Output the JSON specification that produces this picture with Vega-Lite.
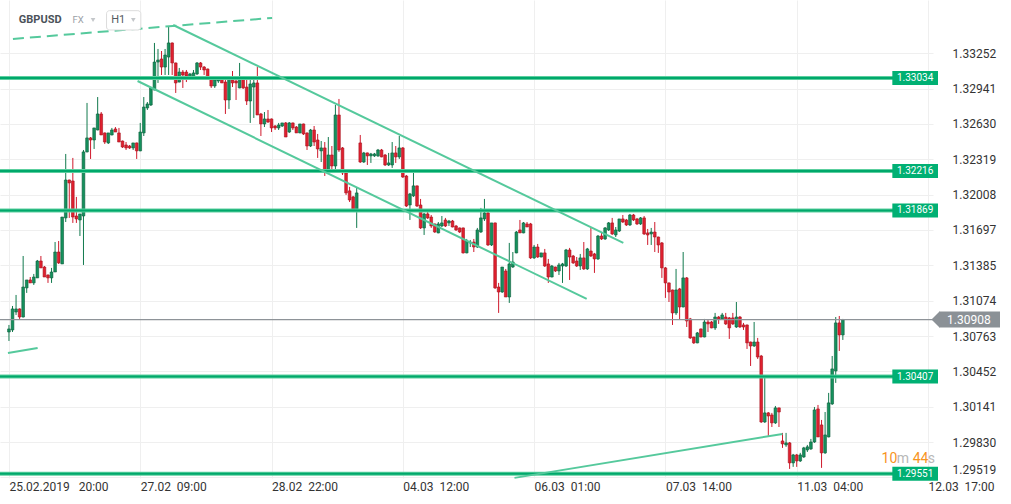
{
"$schema":"https://vega.github.io/schema/vega-lite/v6.json",
"width":933,"height":478,
"autosize":{"type":"none"},
"padding":{"left":0,"top":0,"right":78,"bottom":26},
"background":"white",
"config":{"view":{"stroke":null},"font":"Roboto","text":{"font":"Roboto"},"axis":{"labelOverlap":false,"labelBound":false}},
"datasets":{
"candles":[
{"i":0,"o":1.30799,"h":1.30861,"l":1.30720,"c":1.30826},
{"i":1,"o":1.30817,"h":1.31028,"l":1.30799,"c":1.31002},
{"i":2,"o":1.30975,"h":1.31125,"l":1.30949,"c":1.31002},
{"i":3,"o":1.31002,"h":1.31007,"l":1.30914,"c":1.30931},
{"i":4,"o":1.30931,"h":1.31468,"l":1.30927,"c":1.31195},
{"i":5,"o":1.31187,"h":1.31257,"l":1.31143,"c":1.31257},
{"i":6,"o":1.31257,"h":1.31283,"l":1.31231,"c":1.31231},
{"i":7,"o":1.31231,"h":1.31310,"l":1.31213,"c":1.31283},
{"i":8,"o":1.31275,"h":1.31433,"l":1.31275,"c":1.31424},
{"i":9,"o":1.31424,"h":1.31468,"l":1.31363,"c":1.31363},
{"i":10,"o":1.31371,"h":1.31380,"l":1.31283,"c":1.31283},
{"i":11,"o":1.31301,"h":1.31305,"l":1.31231,"c":1.31275},
{"i":12,"o":1.31275,"h":1.31363,"l":1.31231,"c":1.31327},
{"i":13,"o":1.31327,"h":1.31591,"l":1.31327,"c":1.31503},
{"i":14,"o":1.31503,"h":1.31600,"l":1.31398,"c":1.31407},
{"i":15,"o":1.31398,"h":1.31811,"l":1.31398,"c":1.31811},
{"i":16,"o":1.31803,"h":1.32366,"l":1.31767,"c":1.32137},
{"i":17,"o":1.32137,"h":1.32140,"l":1.31803,"c":1.32111},
{"i":18,"o":1.32128,"h":1.32331,"l":1.31759,"c":1.31811},
{"i":19,"o":1.31820,"h":1.31988,"l":1.31759,"c":1.31794},
{"i":20,"o":1.31785,"h":1.31838,"l":1.31644,"c":1.31838},
{"i":21,"o":1.31820,"h":1.32401,"l":1.31389,"c":1.32384},
{"i":22,"o":1.32384,"h":1.32815,"l":1.32380,"c":1.32507},
{"i":23,"o":1.32507,"h":1.32515,"l":1.32322,"c":1.32489},
{"i":24,"o":1.32489,"h":1.32595,"l":1.32410,"c":1.32595},
{"i":25,"o":1.32577,"h":1.32867,"l":1.32574,"c":1.32718},
{"i":26,"o":1.32718,"h":1.32735,"l":1.32533,"c":1.32533},
{"i":27,"o":1.32551,"h":1.32555,"l":1.32454,"c":1.32471},
{"i":28,"o":1.32463,"h":1.32551,"l":1.32454,"c":1.32551},
{"i":29,"o":1.32533,"h":1.32595,"l":1.32530,"c":1.32577},
{"i":30,"o":1.32586,"h":1.32603,"l":1.32559,"c":1.32559},
{"i":31,"o":1.32551,"h":1.32595,"l":1.32471,"c":1.32471},
{"i":32,"o":1.32480,"h":1.32484,"l":1.32419,"c":1.32427},
{"i":33,"o":1.32445,"h":1.32471,"l":1.32401,"c":1.32419},
{"i":34,"o":1.32436,"h":1.32445,"l":1.32410,"c":1.32419},
{"i":35,"o":1.32419,"h":1.32463,"l":1.32401,"c":1.32463},
{"i":36,"o":1.32463,"h":1.32466,"l":1.32322,"c":1.32393},
{"i":37,"o":1.32393,"h":1.32639,"l":1.32390,"c":1.32559},
{"i":38,"o":1.32551,"h":1.32867,"l":1.32524,"c":1.32779},
{"i":39,"o":1.32771,"h":1.32823,"l":1.32753,"c":1.32806},
{"i":40,"o":1.32797,"h":1.32947,"l":1.32788,"c":1.32947},
{"i":41,"o":1.32929,"h":1.33343,"l":1.32926,"c":1.33175},
{"i":42,"o":1.33175,"h":1.33290,"l":1.32991,"c":1.33193},
{"i":43,"o":1.33202,"h":1.33272,"l":1.33061,"c":1.33131},
{"i":44,"o":1.33131,"h":1.33290,"l":1.33061,"c":1.33237},
{"i":45,"o":1.33219,"h":1.33483,"l":1.33061,"c":1.33343},
{"i":46,"o":1.33343,"h":1.33347,"l":1.33061,"c":1.33167},
{"i":47,"o":1.33167,"h":1.33170,"l":1.32903,"c":1.32991},
{"i":48,"o":1.32999,"h":1.33123,"l":1.32996,"c":1.33087},
{"i":49,"o":1.33087,"h":1.33105,"l":1.32947,"c":1.33061},
{"i":50,"o":1.33087,"h":1.33105,"l":1.32999,"c":1.33052},
{"i":51,"o":1.33043,"h":1.33079,"l":1.33040,"c":1.33070},
{"i":52,"o":1.33043,"h":1.33105,"l":1.33040,"c":1.33079},
{"i":53,"o":1.33070,"h":1.33175,"l":1.33061,"c":1.33167},
{"i":54,"o":1.33167,"h":1.33175,"l":1.33105,"c":1.33131},
{"i":55,"o":1.33131,"h":1.33140,"l":1.33061,"c":1.33105},
{"i":56,"o":1.33114,"h":1.33117,"l":1.33035,"c":1.33043},
{"i":57,"o":1.33043,"h":1.33046,"l":1.32947,"c":1.32964},
{"i":58,"o":1.32964,"h":1.33035,"l":1.32947,"c":1.33017},
{"i":59,"o":1.33008,"h":1.33035,"l":1.32991,"c":1.33026},
{"i":60,"o":1.33043,"h":1.33052,"l":1.32991,"c":1.32991},
{"i":61,"o":1.32999,"h":1.33052,"l":1.32718,"c":1.32841},
{"i":62,"o":1.32841,"h":1.33043,"l":1.32762,"c":1.33043},
{"i":63,"o":1.33017,"h":1.33096,"l":1.32955,"c":1.32991},
{"i":64,"o":1.33008,"h":1.33026,"l":1.32841,"c":1.32991},
{"i":65,"o":1.32947,"h":1.33167,"l":1.32944,"c":1.33043},
{"i":66,"o":1.33035,"h":1.33043,"l":1.32938,"c":1.32947},
{"i":67,"o":1.32955,"h":1.33052,"l":1.32797,"c":1.32832},
{"i":68,"o":1.32832,"h":1.33052,"l":1.32639,"c":1.32982},
{"i":69,"o":1.32955,"h":1.33043,"l":1.32683,"c":1.32991},
{"i":70,"o":1.32991,"h":1.33131,"l":1.32709,"c":1.32709},
{"i":71,"o":1.32718,"h":1.32727,"l":1.32524,"c":1.32630},
{"i":72,"o":1.32630,"h":1.32735,"l":1.32603,"c":1.32674},
{"i":73,"o":1.32674,"h":1.32753,"l":1.32639,"c":1.32647},
{"i":74,"o":1.32674,"h":1.32678,"l":1.32559,"c":1.32595},
{"i":75,"o":1.32612,"h":1.32621,"l":1.32577,"c":1.32595},
{"i":76,"o":1.32595,"h":1.32639,"l":1.32577,"c":1.32621},
{"i":77,"o":1.32612,"h":1.32639,"l":1.32603,"c":1.32639},
{"i":78,"o":1.32639,"h":1.32647,"l":1.32515,"c":1.32515},
{"i":79,"o":1.32559,"h":1.32647,"l":1.32551,"c":1.32639},
{"i":80,"o":1.32639,"h":1.32642,"l":1.32577,"c":1.32595},
{"i":81,"o":1.32603,"h":1.32612,"l":1.32551,"c":1.32551},
{"i":82,"o":1.32551,"h":1.32630,"l":1.32548,"c":1.32630},
{"i":83,"o":1.32630,"h":1.32633,"l":1.32533,"c":1.32542},
{"i":84,"o":1.32551,"h":1.32555,"l":1.32401,"c":1.32436},
{"i":85,"o":1.32436,"h":1.32586,"l":1.32427,"c":1.32577},
{"i":86,"o":1.32577,"h":1.32612,"l":1.32436,"c":1.32471},
{"i":87,"o":1.32489,"h":1.32542,"l":1.32331,"c":1.32410},
{"i":88,"o":1.32393,"h":1.32480,"l":1.32295,"c":1.32419},
{"i":89,"o":1.32419,"h":1.32471,"l":1.32172,"c":1.32216},
{"i":90,"o":1.32216,"h":1.32515,"l":1.32199,"c":1.32357},
{"i":91,"o":1.32357,"h":1.32436,"l":1.32207,"c":1.32260},
{"i":92,"o":1.32260,"h":1.32797,"l":1.32207,"c":1.32709},
{"i":93,"o":1.32709,"h":1.32850,"l":1.32384,"c":1.32401},
{"i":94,"o":1.32419,"h":1.32427,"l":1.32181,"c":1.32199},
{"i":95,"o":1.32199,"h":1.32225,"l":1.32005,"c":1.32023},
{"i":96,"o":1.32041,"h":1.32076,"l":1.31943,"c":1.31961},
{"i":97,"o":1.31988,"h":1.31997,"l":1.31864,"c":1.31864},
{"i":98,"o":1.31864,"h":1.32067,"l":1.31715,"c":1.32023},
{"i":99,"o":1.32463,"h":1.32533,"l":1.32287,"c":1.32295},
{"i":100,"o":1.32295,"h":1.32384,"l":1.32287,"c":1.32375},
{"i":101,"o":1.32375,"h":1.32378,"l":1.32269,"c":1.32349},
{"i":102,"o":1.32349,"h":1.32375,"l":1.32287,"c":1.32366},
{"i":103,"o":1.32349,"h":1.32375,"l":1.32340,"c":1.32366},
{"i":104,"o":1.32349,"h":1.32410,"l":1.32340,"c":1.32401},
{"i":105,"o":1.32401,"h":1.32410,"l":1.32337,"c":1.32340},
{"i":106,"o":1.32357,"h":1.32366,"l":1.32260,"c":1.32269},
{"i":107,"o":1.32269,"h":1.32375,"l":1.32260,"c":1.32287},
{"i":108,"o":1.32269,"h":1.32471,"l":1.32243,"c":1.32375},
{"i":109,"o":1.32375,"h":1.32436,"l":1.32287,"c":1.32340},
{"i":110,"o":1.32340,"h":1.32524,"l":1.32322,"c":1.32419},
{"i":111,"o":1.32419,"h":1.32427,"l":1.32155,"c":1.32163},
{"i":112,"o":1.32172,"h":1.32181,"l":1.31899,"c":1.31908},
{"i":113,"o":1.31917,"h":1.32023,"l":1.31785,"c":1.32014},
{"i":114,"o":1.31997,"h":1.32216,"l":1.31988,"c":1.32085},
{"i":115,"o":1.32085,"h":1.32088,"l":1.31899,"c":1.31908},
{"i":116,"o":1.31917,"h":1.31970,"l":1.31706,"c":1.31715},
{"i":117,"o":1.31715,"h":1.31847,"l":1.31653,"c":1.31838},
{"i":118,"o":1.31838,"h":1.31855,"l":1.31794,"c":1.31803},
{"i":119,"o":1.31811,"h":1.31829,"l":1.31715,"c":1.31732},
{"i":120,"o":1.31750,"h":1.31753,"l":1.31671,"c":1.31679},
{"i":121,"o":1.31671,"h":1.31767,"l":1.31668,"c":1.31750},
{"i":122,"o":1.31732,"h":1.31820,"l":1.31723,"c":1.31759},
{"i":123,"o":1.31785,"h":1.31803,"l":1.31723,"c":1.31732},
{"i":124,"o":1.31759,"h":1.31785,"l":1.31732,"c":1.31776},
{"i":125,"o":1.31776,"h":1.31785,"l":1.31720,"c":1.31723},
{"i":126,"o":1.31732,"h":1.31741,"l":1.31688,"c":1.31697},
{"i":127,"o":1.31715,"h":1.31718,"l":1.31671,"c":1.31679},
{"i":128,"o":1.31715,"h":1.31718,"l":1.31490,"c":1.31495},
{"i":129,"o":1.31495,"h":1.31618,"l":1.31492,"c":1.31600},
{"i":130,"o":1.31583,"h":1.31609,"l":1.31547,"c":1.31591},
{"i":131,"o":1.31591,"h":1.31618,"l":1.31503,"c":1.31547},
{"i":132,"o":1.31547,"h":1.31715,"l":1.31539,"c":1.31697},
{"i":133,"o":1.31679,"h":1.31891,"l":1.31671,"c":1.31803},
{"i":134,"o":1.31794,"h":1.31970,"l":1.31776,"c":1.31847},
{"i":135,"o":1.31847,"h":1.31873,"l":1.31556,"c":1.31565},
{"i":136,"o":1.31565,"h":1.31759,"l":1.31556,"c":1.31759},
{"i":137,"o":1.31759,"h":1.31762,"l":1.31178,"c":1.31187},
{"i":138,"o":1.31195,"h":1.31231,"l":1.30967,"c":1.31151},
{"i":139,"o":1.31151,"h":1.31371,"l":1.31143,"c":1.31371},
{"i":140,"o":1.31336,"h":1.31354,"l":1.31107,"c":1.31107},
{"i":141,"o":1.31107,"h":1.31583,"l":1.31055,"c":1.31398},
{"i":142,"o":1.31371,"h":1.31503,"l":1.31363,"c":1.31415},
{"i":143,"o":1.31495,"h":1.31688,"l":1.31492,"c":1.31679},
{"i":144,"o":1.31697,"h":1.31785,"l":1.31671,"c":1.31671},
{"i":145,"o":1.31671,"h":1.31767,"l":1.31668,"c":1.31759},
{"i":146,"o":1.31750,"h":1.31767,"l":1.31723,"c":1.31723},
{"i":147,"o":1.31750,"h":1.31759,"l":1.31442,"c":1.31451},
{"i":148,"o":1.31451,"h":1.31565,"l":1.31442,"c":1.31547},
{"i":149,"o":1.31547,"h":1.31574,"l":1.31451,"c":1.31459},
{"i":150,"o":1.31459,"h":1.31495,"l":1.31456,"c":1.31495},
{"i":151,"o":1.31495,"h":1.31530,"l":1.31371,"c":1.31380},
{"i":152,"o":1.31398,"h":1.31442,"l":1.31231,"c":1.31283},
{"i":153,"o":1.31283,"h":1.31389,"l":1.31280,"c":1.31380},
{"i":154,"o":1.31371,"h":1.31374,"l":1.31327,"c":1.31336},
{"i":155,"o":1.31336,"h":1.31407,"l":1.31301,"c":1.31389},
{"i":156,"o":1.31380,"h":1.31407,"l":1.31231,"c":1.31398},
{"i":157,"o":1.31380,"h":1.31530,"l":1.31371,"c":1.31521},
{"i":158,"o":1.31521,"h":1.31539,"l":1.31257,"c":1.31459},
{"i":159,"o":1.31468,"h":1.31477,"l":1.31398,"c":1.31407},
{"i":160,"o":1.31424,"h":1.31459,"l":1.31371,"c":1.31380},
{"i":161,"o":1.31380,"h":1.31486,"l":1.31345,"c":1.31451},
{"i":162,"o":1.31451,"h":1.31591,"l":1.31345,"c":1.31354},
{"i":163,"o":1.31354,"h":1.31539,"l":1.31345,"c":1.31530},
{"i":164,"o":1.31512,"h":1.31723,"l":1.31459,"c":1.31468},
{"i":165,"o":1.31486,"h":1.31495,"l":1.31319,"c":1.31442},
{"i":166,"o":1.31442,"h":1.31653,"l":1.31433,"c":1.31644},
{"i":167,"o":1.31644,"h":1.31671,"l":1.31609,"c":1.31618},
{"i":168,"o":1.31618,"h":1.31723,"l":1.31609,"c":1.31715},
{"i":169,"o":1.31697,"h":1.31767,"l":1.31688,"c":1.31759},
{"i":170,"o":1.31759,"h":1.31803,"l":1.31653,"c":1.31662},
{"i":171,"o":1.31653,"h":1.31723,"l":1.31635,"c":1.31697},
{"i":172,"o":1.31688,"h":1.31794,"l":1.31679,"c":1.31794},
{"i":173,"o":1.31794,"h":1.31829,"l":1.31759,"c":1.31767},
{"i":174,"o":1.31785,"h":1.31794,"l":1.31732,"c":1.31741},
{"i":175,"o":1.31741,"h":1.31838,"l":1.31732,"c":1.31829},
{"i":176,"o":1.31829,"h":1.31838,"l":1.31776,"c":1.31785},
{"i":177,"o":1.31794,"h":1.31803,"l":1.31741,"c":1.31750},
{"i":178,"o":1.31750,"h":1.31811,"l":1.31741,"c":1.31803},
{"i":179,"o":1.31803,"h":1.31820,"l":1.31653,"c":1.31662},
{"i":180,"o":1.31671,"h":1.31706,"l":1.31565,"c":1.31653},
{"i":181,"o":1.31662,"h":1.31715,"l":1.31565,"c":1.31679},
{"i":182,"o":1.31679,"h":1.31767,"l":1.31503,"c":1.31635},
{"i":183,"o":1.31635,"h":1.31638,"l":1.31495,"c":1.31565},
{"i":184,"o":1.31583,"h":1.31591,"l":1.31275,"c":1.31363},
{"i":185,"o":1.31363,"h":1.31371,"l":1.31099,"c":1.31231},
{"i":186,"o":1.31231,"h":1.31234,"l":1.31063,"c":1.31151},
{"i":187,"o":1.31169,"h":1.31172,"l":1.30861,"c":1.30967},
{"i":188,"o":1.30967,"h":1.31354,"l":1.30949,"c":1.31169},
{"i":189,"o":1.31178,"h":1.31187,"l":1.30905,"c":1.31019},
{"i":190,"o":1.31019,"h":1.31503,"l":1.31016,"c":1.31275},
{"i":191,"o":1.31275,"h":1.31283,"l":1.30843,"c":1.30896},
{"i":192,"o":1.30914,"h":1.30923,"l":1.30738,"c":1.30747},
{"i":193,"o":1.30755,"h":1.30758,"l":1.30694,"c":1.30703},
{"i":194,"o":1.30703,"h":1.30799,"l":1.30700,"c":1.30791},
{"i":195,"o":1.30826,"h":1.30829,"l":1.30752,"c":1.30755},
{"i":196,"o":1.30755,"h":1.30914,"l":1.30752,"c":1.30887},
{"i":197,"o":1.30887,"h":1.30905,"l":1.30799,"c":1.30870},
{"i":198,"o":1.30887,"h":1.30896,"l":1.30832,"c":1.30835},
{"i":199,"o":1.30835,"h":1.30967,"l":1.30817,"c":1.30931},
{"i":200,"o":1.30931,"h":1.30940,"l":1.30870,"c":1.30914},
{"i":201,"o":1.30914,"h":1.30967,"l":1.30905,"c":1.30949},
{"i":202,"o":1.30931,"h":1.30967,"l":1.30861,"c":1.30870},
{"i":203,"o":1.30923,"h":1.30931,"l":1.30738,"c":1.30835},
{"i":204,"o":1.30923,"h":1.30967,"l":1.30861,"c":1.30870},
{"i":205,"o":1.30843,"h":1.31063,"l":1.30835,"c":1.30931},
{"i":206,"o":1.30931,"h":1.30940,"l":1.30835,"c":1.30843},
{"i":207,"o":1.30861,"h":1.30879,"l":1.30817,"c":1.30843},
{"i":208,"o":1.30861,"h":1.30864,"l":1.30650,"c":1.30703},
{"i":209,"o":1.30711,"h":1.30714,"l":1.30500,"c":1.30676},
{"i":210,"o":1.30676,"h":1.30887,"l":1.30667,"c":1.30711},
{"i":211,"o":1.30711,"h":1.30747,"l":1.30562,"c":1.30579},
{"i":212,"o":1.30588,"h":1.30597,"l":1.29999,"c":1.30007},
{"i":213,"o":1.30007,"h":1.30395,"l":1.29999,"c":1.30087},
{"i":214,"o":1.30087,"h":1.30095,"l":1.29884,"c":1.30060},
{"i":215,"o":1.30069,"h":1.30087,"l":1.29963,"c":1.29999},
{"i":216,"o":1.29999,"h":1.30148,"l":1.29990,"c":1.30131},
{"i":217,"o":1.30131,"h":1.30134,"l":1.29963,"c":1.30095},
{"i":218,"o":1.29840,"h":1.29911,"l":1.29779,"c":1.29814},
{"i":219,"o":1.29805,"h":1.29911,"l":1.29788,"c":1.29823},
{"i":220,"o":1.29823,"h":1.29831,"l":1.29594,"c":1.29647},
{"i":221,"o":1.29647,"h":1.29726,"l":1.29612,"c":1.29717},
{"i":222,"o":1.29717,"h":1.29726,"l":1.29612,"c":1.29664},
{"i":223,"o":1.29664,"h":1.29735,"l":1.29655,"c":1.29717},
{"i":224,"o":1.29699,"h":1.29788,"l":1.29691,"c":1.29779},
{"i":225,"o":1.29761,"h":1.29805,"l":1.29743,"c":1.29788},
{"i":226,"o":1.29770,"h":1.29858,"l":1.29761,"c":1.29831},
{"i":227,"o":1.29831,"h":1.30139,"l":1.29823,"c":1.30113},
{"i":228,"o":1.30122,"h":1.30157,"l":1.29875,"c":1.29875},
{"i":229,"o":1.29981,"h":1.30025,"l":1.29603,"c":1.29735},
{"i":230,"o":1.29735,"h":1.30095,"l":1.29726,"c":1.29893},
{"i":231,"o":1.29875,"h":1.30263,"l":1.29872,"c":1.30175},
{"i":232,"o":1.30166,"h":1.30588,"l":1.30157,"c":1.30474},
{"i":233,"o":1.30456,"h":1.30931,"l":1.30351,"c":1.30879},
{"i":234,"o":1.30879,"h":1.30940,"l":1.30632,"c":1.30773},
{"i":235,"o":1.30773,"h":1.30914,"l":1.30729,"c":1.30905}
],
"levels":[{"price":1.33034},{"price":1.32216},{"price":1.31869},{"price":1.30407},{"price":1.29551}],
"current":[{"price":1.30908}],
"trend":[
{"id":"upper","i":46.28,"p":1.33501},{"id":"upper","i":173.13,"p":1.31583},
{"id":"lower","i":36.24,"p":1.33008},{"id":"lower","i":162.81,"p":1.31090},
{"id":"small","i":-0.28,"p":1.30615},{"id":"small","i":8.08,"p":1.30659},
{"id":"support","i":142.46,"p":1.29515},{"id":"support","i":218.01,"p":1.29902}
],
"dashed":[{"i":1.12,"p":1.33378},{"i":74.16,"p":1.33563}]
},
"layer":[
{"data":{"name":"candles"},
 "mark":{"type":"rule","strokeWidth":1},
 "encoding":{
  "x":{"field":"i","type":"quantitative","title":null,"scale":{"domain":[-1.115,259],"nice":false,"zero":false},
   "axis":{"values":[0,37,74,111,148,185,222,259],"tickCount":30,
    "labelExpr":"['25.02.2019\u00a0\u00a0\u00a020:00','27.02\u00a0\u00a009:00','28.02\u00a0\u00a022:00','04.03\u00a0\u00a012:00','06.03\u00a0\u00a001:00','07.03\u00a0\u00a014:00','11.03\u00a0\u00a004:00','12.03\u00a0\u00a017:00'][round(datum.value/37)]",
    "labelAlign":"left","labelFlush":false,"labelOverlap":false,"labelBound":false,"ticks":false,"tickSize":0,"domain":false,
    "grid":true,"gridColor":"#efefef","gridWidth":1,"labelPadding":3,"labelFontSize":12,"labelColor":"#333333","labelDx":1,"labelFont":"Roboto"}},
  "y":{"field":"l","type":"quantitative","title":null,"scale":{"domain":[1.29514,1.33721],"nice":false,"zero":false},
   "axis":{"orient":"right","values":[1.29519,1.2983,1.30141,1.30452,1.30763,1.31074,1.31385,1.31697,1.32008,1.32319,1.3263,1.32941,1.33252],"tickCount":30,
    "format":".5f","ticks":false,"tickSize":0,"domain":false,"grid":true,"gridColor":"#efefef","gridWidth":1,"labelFlush":2,"labelFlushOffset":-1,
    "labelPadding":19,"labelFontSize":12,"labelColor":"#333333","labelFont":"Roboto","labelOverlap":false,"labelBound":false}},
  "y2":{"field":"h"},
  "color":{"condition":{"test":"datum.c >= datum.o","value":"#127a4e"},"value":"#cf1a2c"}
 }},
{"data":{"name":"candles"},
 "mark":{"type":"bar","width":2.7,"strokeWidth":0.6},
 "encoding":{
  "x":{"field":"i","type":"quantitative","title":null},
  "y":{"field":"o","type":"quantitative","title":null},
  "y2":{"field":"c"},
  "fill":{"condition":{"test":"datum.c >= datum.o","value":"#15915d"},"value":"#e0202f"},
  "stroke":{"condition":{"test":"datum.c >= datum.o","value":"#0b5c3b"},"value":"#a5121f"}
 }},
{"data":{"name":"levels"},
 "mark":{"type":"rule","strokeWidth":4,"color":"#5ccf9f"},
 "encoding":{"y":{"field":"price","type":"quantitative","title":null}}},
{"data":{"name":"levels"},
 "mark":{"type":"rule","strokeWidth":2,"color":"#00a86b"},
 "encoding":{"y":{"field":"price","type":"quantitative","title":null}}},
{"data":{"name":"current"},
 "mark":{"type":"rule","strokeWidth":1.2,"color":"#8e9398"},
 "encoding":{"y":{"field":"price","type":"quantitative","title":null}}},
{"data":{"name":"trend"},
 "mark":{"type":"line","strokeWidth":2,"color":"#55c99c"},
 "encoding":{
  "x":{"field":"i","type":"quantitative","title":null},
  "y":{"field":"p","type":"quantitative","title":null},
  "detail":{"field":"id"}}},
{"data":{"name":"dashed"},
 "mark":{"type":"line","strokeWidth":2,"color":"#55c99c","strokeDash":[11,6]},
 "encoding":{
  "x":{"field":"i","type":"quantitative","title":null},
  "y":{"field":"p","type":"quantitative","title":null}}},
{"data":{"name":"levels"},
 "mark":{"type":"rect","color":"#00b073","yOffset":-7,"y2Offset":7,"x2Offset":10},
 "encoding":{
  "x":{"datum":248.95,"type":"quantitative","title":null},
  "x2":{"datum":259},
  "y":{"field":"price","type":"quantitative","title":null},
  "y2":{"field":"price"}}},
{"data":{"name":"levels"},
 "mark":{"type":"text","color":"white","fontSize":10,"align":"center","baseline":"middle","font":"Roboto"},
 "encoding":{
  "x":{"datum":255.37,"type":"quantitative","title":null},
  "y":{"field":"price","type":"quantitative","title":null},
  "text":{"field":"price","type":"quantitative","format":".5f"}}},
{"data":{"name":"current"},
 "mark":{"type":"rect","color":"#8b9196","yOffset":-8,"y2Offset":8,"xOffset":11,"x2Offset":72},
 "encoding":{
  "x":{"datum":259,"type":"quantitative","title":null},
  "x2":{"datum":259},
  "y":{"field":"price","type":"quantitative","title":null},
  "y2":{"field":"price"}}},
{"data":{"name":"current"},
 "mark":{"type":"point","shape":"M 0.5 -1 L -0.5 0 L 0.5 1 Z","size":256,"filled":true,"color":"#8b9196","opacity":1,"strokeWidth":0,"xOffset":7.5},
 "encoding":{
  "x":{"datum":259,"type":"quantitative","title":null},
  "y":{"field":"price","type":"quantitative","title":null}}},
{"data":{"name":"current"},
 "mark":{"type":"text","color":"white","fontSize":12,"align":"left","baseline":"middle","font":"Roboto","dx":19},
 "encoding":{
  "x":{"datum":259,"type":"quantitative","title":null},
  "y":{"field":"price","type":"quantitative","title":null},
  "text":{"field":"price","type":"quantitative","format":".5f"}}},
{"data":{"values":[{}]},
 "mark":{"type":"rect","fill":"white","stroke":"#dcdcdc","strokeWidth":1,"cornerRadius":3},
 "encoding":{
  "x":{"datum":27.5,"type":"quantitative","title":null},
  "x2":{"datum":37.16},
  "y":{"datum":1.33627,"type":"quantitative","title":null},
  "y2":{"datum":1.33457}}},
{"data":{"values":[{}]},
 "mark":{"type":"text","text":"GBPUSD","align":"left","baseline":"middle","fontSize":11,"fontWeight":"bold","color":"#4b5259","font":"Roboto"},
 "encoding":{"x":{"datum":2.79,"type":"quantitative","title":null},"y":{"datum":1.33545,"type":"quantitative","title":null}}},
{"data":{"values":[{}]},
 "mark":{"type":"text","text":"FX","align":"left","baseline":"middle","fontSize":9.5,"color":"#9aa0a6","font":"Roboto"},
 "encoding":{"x":{"datum":17.93,"type":"quantitative","title":null},"y":{"datum":1.33541,"type":"quantitative","title":null}}},
{"data":{"values":[{}]},
 "mark":{"type":"text","text":"H1","align":"left","baseline":"middle","fontSize":11,"color":"#555b61","font":"Roboto"},
 "encoding":{"x":{"datum":28.8,"type":"quantitative","title":null},"y":{"datum":1.33541,"type":"quantitative","title":null}}},
{"data":{"values":[{}]},
 "mark":{"type":"point","shape":"triangle-down","size":22,"filled":true,"color":"#c4c7ca","opacity":1},
 "encoding":{"x":{"datum":23.7,"type":"quantitative","title":null},"y":{"datum":1.33545,"type":"quantitative","title":null}}},
{"data":{"values":[{}]},
 "mark":{"type":"point","shape":"triangle-down","size":22,"filled":true,"color":"#c4c7ca","opacity":1},
 "encoding":{"x":{"datum":35.04,"type":"quantitative","title":null},"y":{"datum":1.33545,"type":"quantitative","title":null}}},
{"data":{"values":[{}]},
 "mark":{"type":"text","text":"10","align":"left","baseline":"middle","fontSize":14,"color":"#f7941e","font":"Roboto"},
 "encoding":{"x":{"datum":245.9,"type":"quantitative","title":null},"y":{"datum":1.29682,"type":"quantitative","title":null}}},
{"data":{"values":[{}]},
 "mark":{"type":"text","text":"m","align":"left","baseline":"middle","fontSize":14,"color":"#b8b8b8","font":"Roboto"},
 "encoding":{"x":{"datum":250.2,"type":"quantitative","title":null},"y":{"datum":1.29682,"type":"quantitative","title":null}}},
{"data":{"values":[{}]},
 "mark":{"type":"text","text":"44","align":"left","baseline":"middle","fontSize":14,"color":"#f7941e","font":"Roboto"},
 "encoding":{"x":{"datum":254.7,"type":"quantitative","title":null},"y":{"datum":1.29682,"type":"quantitative","title":null}}},
{"data":{"values":[{}]},
 "mark":{"type":"text","text":"s","align":"left","baseline":"middle","fontSize":14,"color":"#b8b8b8","font":"Roboto"},
 "encoding":{"x":{"datum":258.9,"type":"quantitative","title":null},"y":{"datum":1.29682,"type":"quantitative","title":null}}}
]
}
